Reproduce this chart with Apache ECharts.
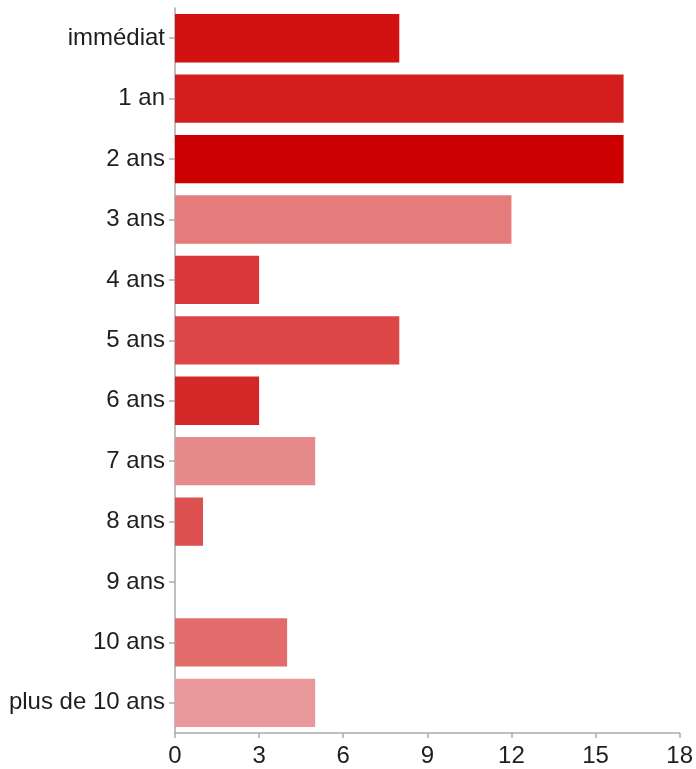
<!DOCTYPE html>
<html>
<head>
<meta charset="utf-8">
<script src="https://cdn.jsdelivr.net/npm/echarts@6/dist/echarts.min.js"></script>
<style>
  html, body { margin: 0; padding: 0; background: #ffffff; }
  #chart { width: 696px; height: 769px; }
</style>
</head>
<body>
<div id="chart"></div>
<script>
// Délai déclaré, une catégorie par barre (de haut en bas)
const categories = ['immédiat', '1 an', '2 ans', '3 ans', '4 ans', '5 ans', '6 ans', '7 ans', '8 ans', '9 ans', '10 ans', 'plus de 10 ans'];
// Nombre de réponses par catégorie
const counts = [8, 16, 16, 12, 3, 8, 3, 5, 1, 0, 4, 5];
// Teinte de chaque barre
const barColors = ['#d21111', '#d41e1e', '#cc0000', '#e57c7c', '#d93838', '#dc4646', '#d42828', '#e68a8a', '#dd5050', '#dd5050', '#e26c6c', '#ea9799'];
// Graduations de l'axe horizontal
const xTicks = [0, 3, 6, 9, 12, 15, 18];

const FONT = '"Liberation Sans", Arial, Helvetica, sans-serif';

const chart = echarts.init(document.getElementById('chart'), null, { renderer: 'canvas' });

chart.setOption({
  animation: false,
  backgroundColor: '#ffffff',
  grid: { left: 175, right: 13, top: 8, bottom: 36, containLabel: false },
  xAxis: {
    type: 'value',
    min: xTicks[0],
    max: xTicks[xTicks.length - 1],
    interval: xTicks[1] - xTicks[0],
    axisLine: { show: true, lineStyle: { color: '#aaaaaa', width: 1.5 } },
    axisTick: { show: true, length: 5, lineStyle: { color: '#aaaaaa', width: 1.5 } },
    splitLine: { show: false },
    axisLabel: { color: '#1e1e1e', fontSize: 24, fontFamily: FONT, margin: 11 }
  },
  yAxis: {
    type: 'category',
    data: categories,
    inverse: true,
    axisLine: { show: true, lineStyle: { color: '#aaaaaa', width: 1.5 } },
    axisTick: { show: true, length: 6, alignWithLabel: true, lineStyle: { color: '#aaaaaa', width: 1.5 } },
    axisLabel: { color: '#1e1e1e', fontSize: 24, fontFamily: FONT, margin: 10 }
  },
  series: [{
    type: 'bar',
    data: counts.map((v, i) => ({ value: v, itemStyle: { color: barColors[i] } })),
    barCategoryGap: '20%',
    itemStyle: { borderWidth: 0 }
  }]
});
</script>
</body>
</html>
